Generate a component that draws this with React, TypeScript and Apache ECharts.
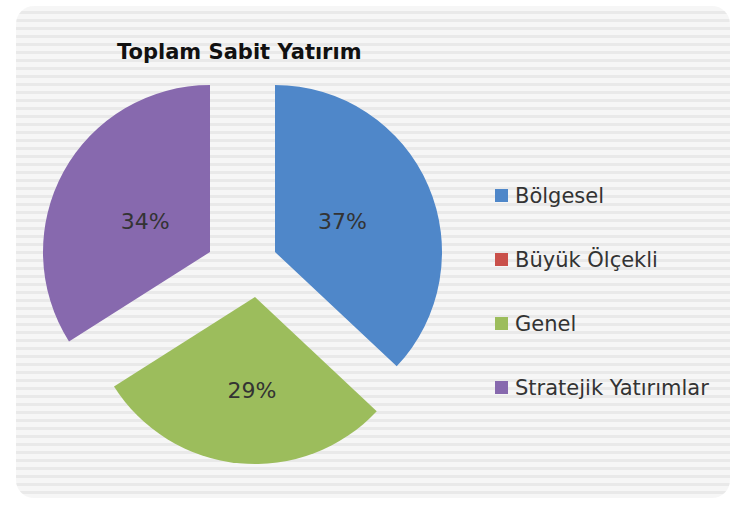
import React, { useEffect, useRef } from "react";
import * as echarts from "echarts";

const TITLE = "Toplam Sabit Yatırım";
const categories = ["Bölgesel", "Büyük Ölçekli", "Genel", "Stratejik Yatırımlar"];
const values = [37, 0, 29, 34];
const colors = ["#4F87C9", "#C9504A", "#9CBD5C", "#8769AE"];
// exploded slice anchor (apex) positions, px
const sliceCenters: Record<string, [number, number]> = {
  "Bölgesel": [275, 252],
  "Genel": [255, 297],
  "Stratejik Yatırımlar": [210, 252],
};
const labelOffsets: Record<string, number[]> = {
  "Bölgesel": [-12, 4],
  "Genel": [5, 7],
  "Stratejik Yatırımlar": [11, 11],
};

export default function App() {
  const ref = useRef<HTMLDivElement>(null);
  useEffect(() => {
    document.body.style.margin = "0";
    const chart = echarts.init(ref.current!, null, { renderer: "svg" });
    const series = categories
      .filter((c, i) => values[i] > 0)
      .map((owner) => ({
        type: "pie",
        name: owner,
        center: sliceCenters[owner],
        radius: 167,
        startAngle: 90,
        clockwise: true,
        avoidLabelOverlap: false,
        emphasis: { disabled: true },
        silent: true,
        labelLine: { show: false },
        data: categories.map((c, i) => ({
          name: c,
          value: values[i],
          itemStyle: { color: c === owner ? colors[i] : "rgba(0,0,0,0)" },
          label: {
            show: c === owner,
            position: "inside",
            formatter: "{c}%",
            fontFamily: "DejaVu Sans",
            fontSize: 22,
            color: "#333",
            offset: labelOffsets[owner],
          },
        })),
      }));
    chart.setOption({
      animation: false,
      title: {
        text: TITLE,
        left: 112,
        top: 36,
        textStyle: { fontFamily: "DejaVu Sans", fontWeight: "bold", fontSize: 21, color: "#111" },
      },
      legend: {
        orient: "vertical",
        left: 490,
        top: 180,
        itemWidth: 13,
        itemHeight: 13,
        itemGap: 43,
        icon: "rect",
        selectedMode: false,
        textStyle: { fontFamily: "DejaVu Sans", fontSize: 21, color: "#333", padding: [0, 0, 0, 2] },
        data: categories.map((c, i) => ({ name: c, itemStyle: { color: colors[i] } })),
      },
      series,
    });
    return () => chart.dispose();
  }, []);
  return (
    <div style={{ width: 738, height: 505, background: "#fff", position: "relative" }}>
      <div
        style={{
          position: "absolute",
          left: 16,
          top: 6,
          width: 714,
          height: 492,
          borderRadius: 18,
          background: "repeating-linear-gradient(to bottom, #f6f6f6 0px, #f6f6f6 5px, #e9e9e9 5px, #e9e9e9 8px)",
        }}
      />
      <div ref={ref} style={{ position: "absolute", left: 0, top: 0, width: 738, height: 505 }} />
    </div>
  );
}
